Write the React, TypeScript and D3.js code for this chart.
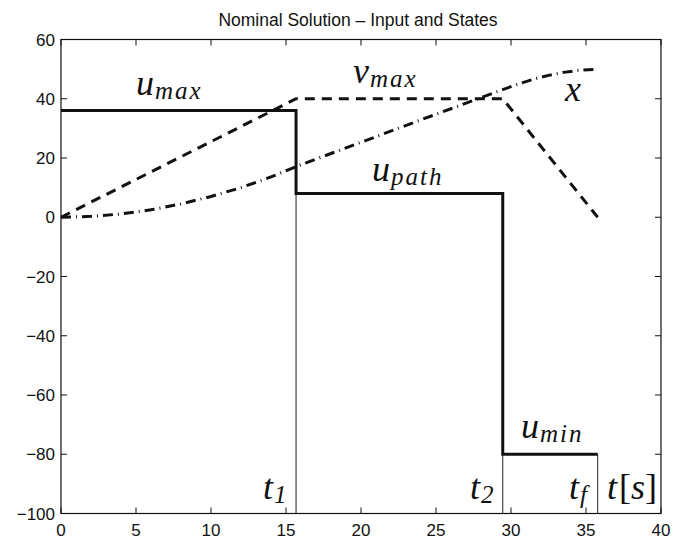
import React from "react";
import * as d3 from "d3";

const width = 673;
const height = 538;
const margin = { top: 39.5, right: 12, bottom: 24.5, left: 61 };

// switching times t1, t2, tf
const switchTimes = [15.67, 29.45, 35.78];

// input u (steps)
const uTimes = [0, 15.67, 15.67, 29.45, 29.45, 35.78];
const uValues = [36, 36, 8, 8, -80, -80];

// velocity v
const vTimes = [0, 15.67, 29.45, 35.78];
const vValues = [0, 40, 40, 0];

// position x
const xTimes = [0, 2, 4, 6, 8, 10, 12, 14, 15.67, 20, 24, 27.7, 29.45, 30.5, 31.5, 32.5, 33.5, 34.5, 35.78];
const xValues = [0, 0.3, 1.1, 2.5, 4.5, 7.0, 10.0, 13.6, 17.1, 25.3, 32.9, 39.8, 43.1, 45.0, 46.6, 47.9, 48.9, 49.6, 50.0];

const xTicks = [0, 5, 10, 15, 20, 25, 30, 35, 40];
const yTicks = [-100, -80, -60, -40, -20, 0, 20, 40, 60];

const mathFont = "'Liberation Serif', 'DejaVu Serif', serif";
const sansFont = "'Liberation Sans', Arial, sans-serif";

const App = () => {
  const xScale = d3
    .scaleLinear()
    .domain([0, 40])
    .range([margin.left, width - margin.right]);
  const yScale = d3
    .scaleLinear()
    .domain([-100, 60])
    .range([height - margin.bottom, margin.top]);

  const line = d3
    .line<number[]>()
    .x(d => xScale(d[0]))
    .y(d => yScale(d[1]));

  const uPath = line(uTimes.map((t, i) => [t, uValues[i]]));
  const vPath = line(vTimes.map((t, i) => [t, vValues[i]]));
  const xPath = line(xTimes.map((t, i) => [t, xValues[i]]));

  // thin markers from the input curve down to the axis
  const markerTops = [8, -80, -80];

  const x0 = xScale(0);
  const x1 = xScale(40);
  const y0 = yScale(-100);
  const y1 = yScale(60);
  const tickLen = 6;

  // math label: italic letter + subscript
  const mathLabel = (x, y, main, sub, key) => (
    <text key={key} x={x} y={y} fontFamily={mathFont} fontStyle="italic" fontSize={36} fill="#111">
      {main}
      {sub ? (
        <tspan fontSize={25} dx={1} dy={4} letterSpacing={sub.length > 1 ? 2 : 0}>
          {sub}
        </tspan>
      ) : null}
    </text>
  );

  return (
    <div style={{ position: "absolute", left: 0, top: 0 }}>
      <svg width={width} height={height} style={{ display: "block", background: "#fff" }}>
        <text
          x={(x0 + x1) / 2 - 3}
          y={26}
          textAnchor="middle"
          fontFamily={sansFont}
          fontSize={17.5}
          fill="#111"
        >
          Nominal Solution – Input and States
        </text>

        {/* ticks on all four sides, pointing inward */}
        <g stroke="#111" strokeWidth={1}>
          {xTicks.map(t => (
            <g key={"xt" + t}>
              <line x1={xScale(t)} x2={xScale(t)} y1={y0} y2={y0 - tickLen} />
              <line x1={xScale(t)} x2={xScale(t)} y1={y1} y2={y1 + tickLen} />
            </g>
          ))}
          {yTicks.map(t => (
            <g key={"yt" + t}>
              <line x1={x0} x2={x0 + tickLen} y1={yScale(t)} y2={yScale(t)} />
              <line x1={x1} x2={x1 - tickLen} y1={yScale(t)} y2={yScale(t)} />
            </g>
          ))}
        </g>

        <g fontFamily={sansFont} fontSize={17} fill="#111">
          {xTicks.map(t => (
            <text key={"xl" + t} x={xScale(t)} y={y0 + 22} textAnchor="middle">
              {t}
            </text>
          ))}
          {yTicks.map(t => (
            <text key={"yl" + t} x={x0 - 6} y={yScale(t) + 6} textAnchor="end">
              {t < 0 ? "−" + Math.abs(t) : t}
            </text>
          ))}
        </g>

        {/* switching time markers */}
        <g stroke="#222" strokeWidth={1}>
          {switchTimes.map((t, i) => (
            <line key={"sw" + i} x1={xScale(t)} x2={xScale(t)} y1={yScale(markerTops[i])} y2={y0} />
          ))}
        </g>

        <path d={xPath} fill="none" stroke="#111" strokeWidth={3} strokeDasharray="10,5,1,5" />
        <path d={vPath} fill="none" stroke="#111" strokeWidth={3} strokeDasharray="10,7" />
        <path d={uPath} fill="none" stroke="#111" strokeWidth={3} />

        {mathLabel(136, 95, "u", "max", "umax")}
        {mathLabel(353, 83, "v", "max", "vmax")}
        {mathLabel(565, 101, "x", null, "x")}
        {mathLabel(372, 181, "u", "path", "upath")}
        {mathLabel(521, 438, "u", "min", "umin")}
        {mathLabel(263, 499, "t", "1", "t1")}
        {mathLabel(470, 499, "t", "2", "t2")}
        {mathLabel(569, 499, "t", "f", "tf")}
        <text x={607} y={499} fontFamily={mathFont} fontSize={36} fill="#111">
          <tspan fontStyle="italic">t</tspan>
          <tspan dx={2}>[</tspan>
          <tspan fontStyle="italic">s</tspan>
          <tspan>]</tspan>
        </text>

        <rect x={x0} y={y1} width={x1 - x0} height={y0 - y1} fill="none" stroke="#111" strokeWidth={1.2} />
      </svg>
    </div>
  );
};

export default App;
